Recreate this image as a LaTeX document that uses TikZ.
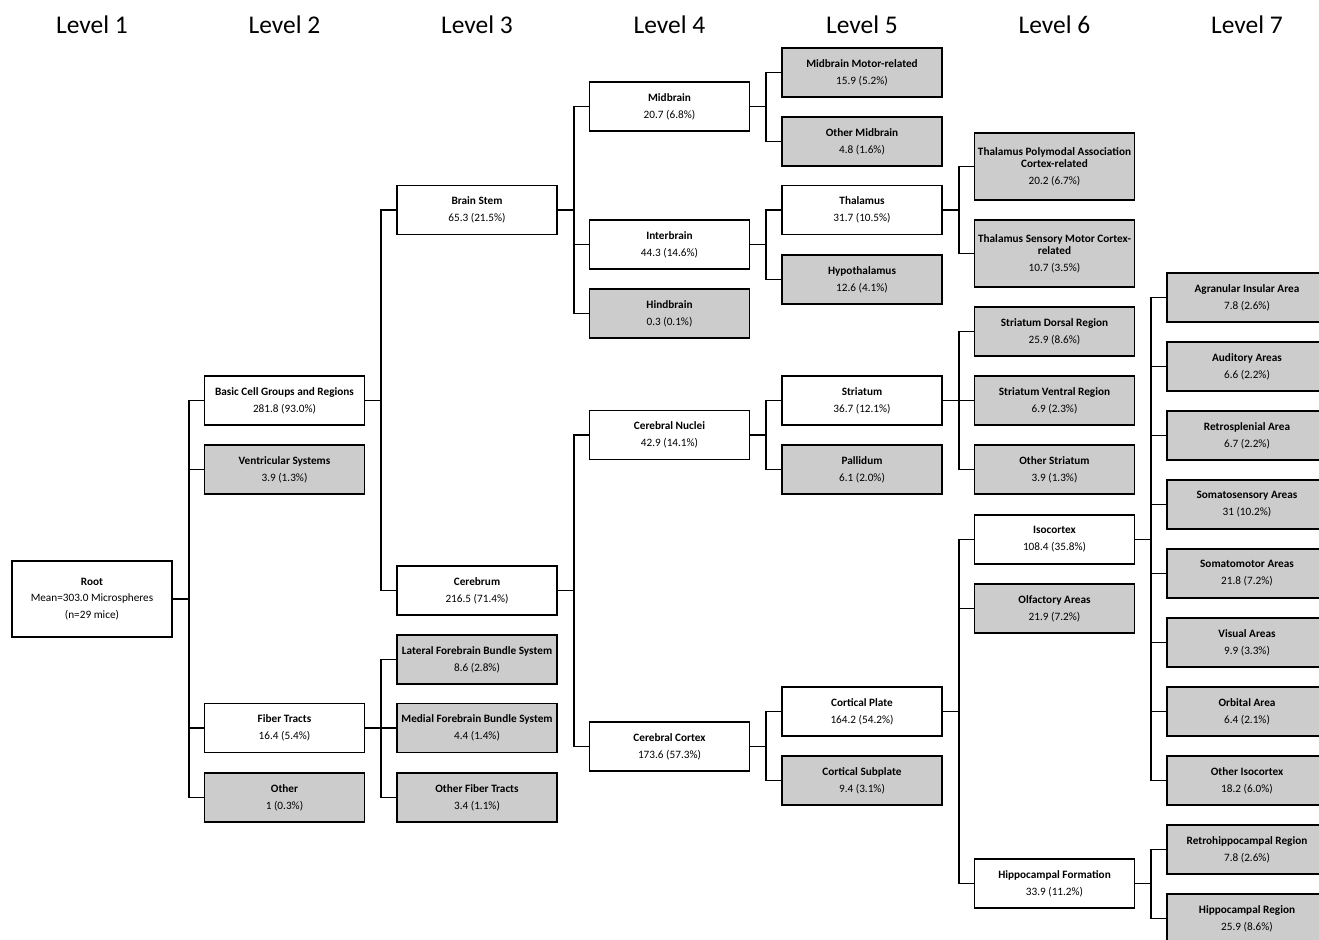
\documentclass[tikz,border=0pt]{standalone}
\usepackage{fontspec}
\setmainfont{Carlito}
\usepackage{tikz}
\usepackage{xcolor}
\usetikzlibrary{positioning}

\tikzset{
  region/.style={draw, line width=1pt, fill=white, minimum width=3.2cm, minimum height=0.98cm,
    align=center, inner sep=1pt, font=\fontsize{6.4}{7}\selectfont},
  leaf/.style={region, fill=gray!40},
  tall/.style={minimum height=1.34cm},
  levelhead/.style={font=\fontsize{14.5}{17}\selectfont},
  link/.style={line width=1pt}
}
\newcommand{\rg}[2]{\textbf{#1}\\[2.6pt]#2}

\begin{document}
\begin{tikzpicture}[x=0.02cm, y=-0.02cm]
  \useasboundingbox (0,0) rectangle (1319,940);
  % level headers
  \foreach \i in {1,...,7}
    \node[levelhead] (lev\i) at ({92+192.5*(\i-1)},25) {Level \i};
  % level 1
  \node[region, minimum height=1.52cm] (root) at (92,599)
    {\textbf{Root}\\[2.6pt]Mean=303.0 Microspheres\\[2.6pt](n=29 mice)};
  % level 2
  \node[region] (basic)  at (284.5,400.5) {\rg{Basic Cell Groups and Regions}{281.8 (93.0\%)}};
  \node[leaf]   (ventri) at (284.5,469.5) {\rg{Ventricular Systems}{3.9 (1.3\%)}};
  \node[region] (fiber)  at (284.5,728)   {\rg{Fiber Tracts}{16.4 (5.4\%)}};
  \node[leaf]   (other)  at (284.5,797.5) {\rg{Other}{1 (0.3\%)}};
  % level 3
  \node[region] (brainstem) at (477,210)   {\rg{Brain Stem}{65.3 (21.5\%)}};
  \node[region] (cerebrum)  at (477,590.5) {\rg{Cerebrum}{216.5 (71.4\%)}};
  \node[leaf]   (lfbs)      at (477,659.5) {\rg{Lateral Forebrain Bundle System}{8.6 (2.8\%)}};
  \node[leaf]   (mfbs)      at (477,728)   {\rg{Medial Forebrain Bundle System}{4.4 (1.4\%)}};
  \node[leaf]   (oft)       at (477,797.5) {\rg{Other Fiber Tracts}{3.4 (1.1\%)}};
  % level 4
  \node[region] (midbrain)   at (669.5,106.5) {\rg{Midbrain}{20.7 (6.8\%)}};
  \node[region] (interbrain) at (669.5,244.5) {\rg{Interbrain}{44.3 (14.6\%)}};
  \node[leaf]   (hindbrain)  at (669.5,313.5) {\rg{Hindbrain}{0.3 (0.1\%)}};
  \node[region] (cnuclei)    at (669.5,435)   {\rg{Cerebral Nuclei}{42.9 (14.1\%)}};
  \node[region] (ccortex)    at (669.5,746.5) {\rg{Cerebral Cortex}{173.6 (57.3\%)}};
  % level 5
  \node[leaf]   (mbmotor)   at (862,72.5)  {\rg{Midbrain Motor-related}{15.9 (5.2\%)}};
  \node[leaf]   (mbother)   at (862,141.5) {\rg{Other Midbrain}{4.8 (1.6\%)}};
  \node[region] (thalamus)  at (862,210)   {\rg{Thalamus}{31.7 (10.5\%)}};
  \node[leaf]   (hypothal)  at (862,279.5) {\rg{Hypothalamus}{12.6 (4.1\%)}};
  \node[region] (striatum)  at (862,400.5) {\rg{Striatum}{36.7 (12.1\%)}};
  \node[leaf]   (pallidum)  at (862,469.5) {\rg{Pallidum}{6.1 (2.0\%)}};
  \node[region] (cplate)    at (862,711.5) {\rg{Cortical Plate}{164.2 (54.2\%)}};
  \node[leaf]   (csubplate) at (862,780.5) {\rg{Cortical Subplate}{9.4 (3.1\%)}};
  % level 6
  \node[leaf, tall] (thpoly) at (1054.5,166.5)
    {\textbf{Thalamus Polymodal Association}\\\textbf{Cortex-related}\\[2.6pt]20.2 (6.7\%)};
  \node[leaf, tall] (thsens) at (1054.5,253.5)
    {\textbf{Thalamus Sensory Motor Cortex-}\\\textbf{related}\\[2.6pt]10.7 (3.5\%)};
  \node[leaf]   (strdors)   at (1054.5,331.5) {\rg{Striatum Dorsal Region}{25.9 (8.6\%)}};
  \node[leaf]   (strvent)   at (1054.5,400.5) {\rg{Striatum Ventral Region}{6.9 (2.3\%)}};
  \node[leaf]   (strother)  at (1054.5,469.5) {\rg{Other Striatum}{3.9 (1.3\%)}};
  \node[region] (isocortex) at (1054.5,539.5) {\rg{Isocortex}{108.4 (35.8\%)}};
  \node[leaf]   (olfact)    at (1054.5,608.5) {\rg{Olfactory Areas}{21.9 (7.2\%)}};
  \node[region] (hipform)   at (1054.5,883.5) {\rg{Hippocampal Formation}{33.9 (11.2\%)}};
  % level 7
  \node[leaf] (agran)    at (1247,297.5) {\rg{Agranular Insular Area}{7.8 (2.6\%)}};
  \node[leaf] (audit)    at (1247,366.5) {\rg{Auditory Areas}{6.6 (2.2\%)}};
  \node[leaf] (retrospl) at (1247,435.5) {\rg{Retrosplenial Area}{6.7 (2.2\%)}};
  \node[leaf] (somsens)  at (1247,504.5) {\rg{Somatosensory Areas}{31 (10.2\%)}};
  \node[leaf] (sommot)   at (1247,573.5) {\rg{Somatomotor Areas}{21.8 (7.2\%)}};
  \node[leaf] (visual)   at (1247,642.5) {\rg{Visual Areas}{9.9 (3.3\%)}};
  \node[leaf] (orbital)  at (1247,711.5) {\rg{Orbital Area}{6.4 (2.1\%)}};
  \node[leaf] (isoother) at (1247,780.5) {\rg{Other Isocortex}{18.2 (6.0\%)}};
  \node[leaf] (retrohip) at (1247,849.5) {\rg{Retrohippocampal Region}{7.8 (2.6\%)}};
  \node[leaf] (hipreg)   at (1247,918.5) {\rg{Hippocampal Region}{25.9 (8.6\%)}};
  % tree connectors
  \foreach \p/\cs in {root/{basic,ventri,fiber,other},
      basic/{brainstem,cerebrum}, fiber/{lfbs,mfbs,oft},
      brainstem/{midbrain,interbrain,hindbrain}, cerebrum/{cnuclei,ccortex},
      midbrain/{mbmotor,mbother}, interbrain/{thalamus,hypothal},
      cnuclei/{striatum,pallidum}, ccortex/{cplate,csubplate},
      thalamus/{thpoly,thsens}, striatum/{strdors,strvent,strother},
      cplate/{isocortex,olfact,hipform},
      isocortex/{agran,audit,retrospl,somsens,sommot,visual,orbital,isoother},
      hipform/{retrohip,hipreg}}
    \foreach \c in \cs
      \draw[link] (\p.east) -- ++(16,0) |- (\c.west);
\end{tikzpicture}
\end{document}
